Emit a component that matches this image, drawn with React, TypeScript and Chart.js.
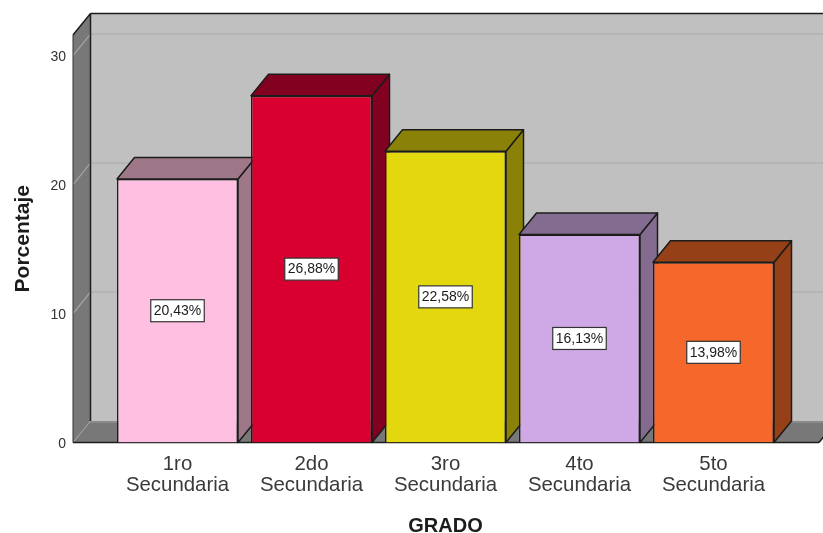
import React, { useEffect, useRef } from "react";
import { Chart, registerables } from "chart.js";

Chart.register(...registerables);

const categories = [["1ro", "Secundaria"], ["2do", "Secundaria"], ["3ro", "Secundaria"], ["4to", "Secundaria"], ["5to", "Secundaria"]];
const percentages = [20.43, 26.88, 22.58, 16.13, 13.98];
const valueLabels = ["20,43%", "26,88%", "22,58%", "16,13%", "13,98%"];
const frontColors = ["#FFBFE0", "#D90030", "#E3D80E", "#CEA9E5", "#F5672A"];
const depthColors = ["#9E7888", "#820020", "#8A8208", "#846C90", "#964018"];
const yTicks = [0, 10, 20, 30];

const DX = 17.5;
const DY = 21.5;
const WALL_LEFT_GAP = 37.5;
const WALL_RIGHT_GAP = 38.5;
const EDGE = "#1c1c1c";

function poly(ctx: CanvasRenderingContext2D, pts: number[][], fill: string | null, stroke: string | null, lw = 1.5) {
  ctx.beginPath();
  pts.forEach((p, i) => (i ? ctx.lineTo(p[0], p[1]) : ctx.moveTo(p[0], p[1])));
  ctx.closePath();
  if (fill) {
    ctx.fillStyle = fill;
    ctx.fill();
  }
  if (stroke) {
    ctx.strokeStyle = stroke;
    ctx.lineWidth = lw;
    ctx.lineJoin = "round";
    ctx.stroke();
  }
}

function line(ctx: CanvasRenderingContext2D, x1: number, y1: number, x2: number, y2: number, c: string, lw: number) {
  ctx.beginPath();
  ctx.moveTo(x1, y1);
  ctx.lineTo(x2, y2);
  ctx.strokeStyle = c;
  ctx.lineWidth = lw;
  ctx.stroke();
}

const depthPlugin = {
  id: "depth",
  beforeDatasetsDraw(chart: any) {
    const { ctx, chartArea, scales } = chart;
    const y = scales.y;
    const L = chartArea.left - WALL_LEFT_GAP;
    const R = chartArea.right + WALL_RIGHT_GAP;
    const T = chartArea.top;
    const B = chartArea.bottom;
    ctx.save();
    // back wall
    poly(ctx, [[L + DX, T - DY], [R + DX, T - DY], [R + DX, B - DY], [L + DX, B - DY]], "#C0C0C0", null);
    // grid lines on the back wall and left wall
    yTicks.slice(1).forEach((t) => {
      const py = y.getPixelForValue(t);
      line(ctx, L + DX, py - DY, R + DX, py - DY, "#B2B2B2", 1.5);
    });
    // left wall
    poly(ctx, [[L, T], [L + DX, T - DY], [L + DX, B - DY], [L, B]], "#787878", null);
    yTicks.slice(1).forEach((t) => {
      const py = y.getPixelForValue(t);
      line(ctx, L, py, L + DX, py - DY, "#A4A4A4", 1.2);
    });
    // floor
    poly(ctx, [[L, B], [R, B], [R + DX, B - DY], [L + DX, B - DY]], "#787878", null);
    line(ctx, L + DX, B - DY + 1, R + DX, B - DY + 1, "#8A8A8A", 2);
    line(ctx, L, B, L + DX, B - DY, "#A4A4A4", 1);
    // outlines
    line(ctx, L, T, L + DX, T - DY, EDGE, 1.5);
    line(ctx, L + DX, T - DY, R + DX, T - DY, EDGE, 1.5);
    line(ctx, L + DX, T - DY, L + DX, B - DY, EDGE, 1.5);
    line(ctx, L, T, L, B, "#333333", 1);
    line(ctx, L, B, R, B, EDGE, 1.5);
    line(ctx, R, B, R + DX, B - DY, EDGE, 1.5);
    // bar side and top faces
    chart.getDatasetMeta(0).data.forEach((bar: any, i: number) => {
      const l = bar.x - bar.width / 2;
      const r = bar.x + bar.width / 2;
      poly(ctx, [[r, bar.y], [r + DX, bar.y - DY], [r + DX, bar.base - DY], [r, bar.base]], depthColors[i], EDGE);
      poly(ctx, [[l, bar.y], [l + DX, bar.y - DY], [r + DX, bar.y - DY], [r, bar.y]], depthColors[i], EDGE);
    });
    ctx.restore();
  },
  afterDatasetsDraw(chart: any) {
    const { ctx } = chart;
    ctx.save();
    ctx.font = '14px "Liberation Sans"';
    ctx.textAlign = "center";
    ctx.textBaseline = "middle";
    chart.getDatasetMeta(0).data.forEach((bar: any, i: number) => {
      const cy = (bar.y + bar.base) / 2;
      const w = ctx.measureText(valueLabels[i]).width + 6;
      const h = 22;
      ctx.fillStyle = "#FFFFFF";
      ctx.fillRect(bar.x - w / 2, cy - h / 2, w, h);
      ctx.strokeStyle = "#333333";
      ctx.lineWidth = 1.2;
      ctx.strokeRect(bar.x - w / 2, cy - h / 2, w, h);
      ctx.fillStyle = "#1c1c1c";
      ctx.fillText(valueLabels[i], bar.x, cy + 0.5);
    });
    ctx.restore();
  },
};

export default function App() {
  const ref = useRef<HTMLCanvasElement>(null);
  useEffect(() => {
    document.body.style.margin = "0";
    const chart = new Chart(ref.current as HTMLCanvasElement, {
      type: "bar",
      data: {
        labels: categories,
        datasets: [
          {
            data: percentages,
            backgroundColor: frontColors,
            borderColor: EDGE,
            borderWidth: 1.5,
            barPercentage: 0.903,
            categoryPercentage: 1,
          },
        ],
      },
      options: {
        responsive: false,
        animation: false,
        events: [],
        layout: { autoPadding: false, padding: { left: 11, right: 42.5, top: 35, bottom: 0 } },
        plugins: { legend: { display: false }, tooltip: { enabled: false } },
        scales: {
          x: {
            grid: { display: false, drawTicks: false },
            border: { display: false },
            afterFit(s: any) {
              s.height = 90.5;
              s.paddingLeft = 0;
              s.paddingRight = 0;
            },
            ticks: {
              color: "#3a3a3a",
              padding: 11,
              maxRotation: 0,
              minRotation: 0,
              autoSkip: false,
              font: { family: "Liberation Sans", size: 20.4, lineHeight: 1.03 },
            },
            title: {
              display: true,
              text: "GRADO",
              color: "#1c1c1c",
              padding: 0,
              font: { family: "Liberation Sans", size: 20, weight: "bold", lineHeight: 0.7 },
            },
          },
          y: {
            min: 0,
            max: 31.59,
            grid: { display: false, drawTicks: false },
            border: { display: false },
            afterFit(s: any) {
              s.width = 99.5;
              s.paddingTop = 0;
              s.paddingBottom = 0;
            },
            afterBuildTicks(s: any) {
              s.ticks = yTicks.map((value) => ({ value }));
            },
            ticks: {
              color: "#333333",
              padding: 44.5,
              labelOffset: 1.5,
              font: { family: "Liberation Sans", size: 14 },
            },
            title: {
              display: true,
              text: "Porcentaje",
              color: "#1c1c1c",
              padding: 0,
              font: { family: "Liberation Sans", size: 21, weight: "bold" },
            },
          },
        },
      },
      plugins: [depthPlugin],
    } as any);
    return () => chart.destroy();
  }, []);
  return <canvas ref={ref} width={823} height={533} style={{ display: "block", background: "#fff" }} />;
}
